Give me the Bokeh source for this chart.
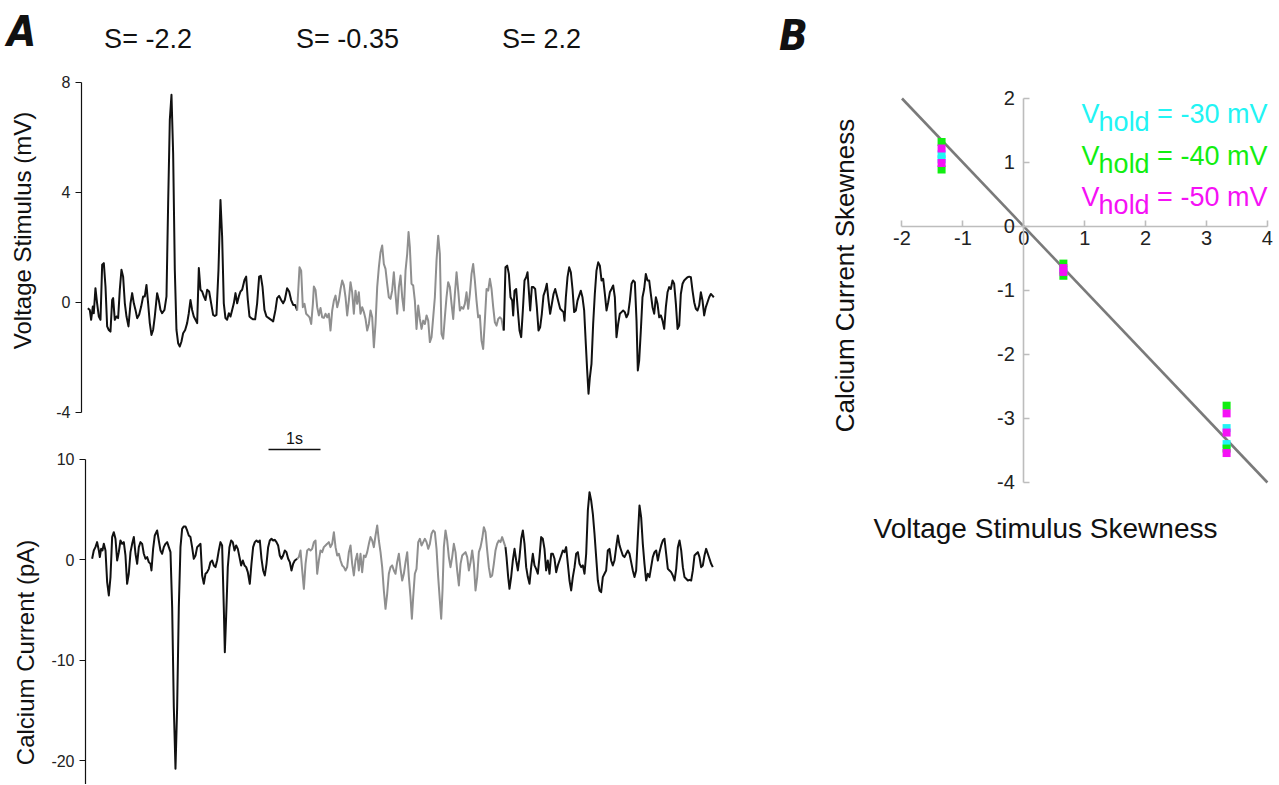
from math import pi
from bokeh.plotting import figure
from bokeh.models import Range1d, Label, FixedTicker, CustomJSTickFormatter
from bokeh.layouts import row, column
from bokeh.embed import file_html
from bokeh.resources import INLINE

# ---------------- Panel A data (time in s) ----------------
v1_t = [0.000,0.038,0.064,0.096,0.115,0.147,0.179,0.212,0.244,0.276,0.308,0.340,0.372,0.404,0.436,0.468,0.487,0.519,0.551,0.583,0.615,0.647,0.679,0.712,0.744,0.782,0.821,0.853,0.885,0.917,0.949,0.987,1.026,1.064,1.096,1.128,1.160,1.192,1.224,1.256,1.288,1.333,1.365,1.397,1.429,1.474,1.513,1.545,1.577,1.609,1.641,1.673,1.705,1.737,1.769,1.801,1.833,1.872,1.910,1.942,1.974,2.006,2.038,2.071,2.103,2.135,2.167,2.199,2.231,2.263,2.295,2.333,2.372,2.410,2.442,2.474,2.513,2.551,2.583,2.615,2.647,2.679,2.712,2.744,2.776,2.808,2.840,2.872,2.904,2.936,2.968,3.013,3.045,3.077,3.109,3.141,3.179,3.218,3.256,3.295,3.327,3.359,3.397,3.436,3.481,3.526,3.564,3.609,3.641,3.679,3.718,3.756,3.788,3.833,3.872,3.910,3.949,3.987,4.026]
v1_v = [-0.22,-0.28,-0.64,-0.16,-0.40,0.51,-0.04,-0.52,-0.64,1.36,1.42,0.57,-0.88,-1.01,-1.07,0.08,0.15,-0.64,-0.52,-0.58,0.45,1.18,0.93,-0.04,-0.52,-0.88,-0.04,0.33,-0.04,-0.28,-0.58,-0.46,-0.16,0.21,0.21,0.63,-0.04,-0.76,-1.19,-1.01,-0.52,0.33,0.08,-0.28,-0.40,-0.28,0.21,3.60,6.63,7.54,5.42,1.18,-1.01,-1.49,-1.61,-1.43,-1.13,-1.01,-0.76,-0.40,0.08,-0.28,-0.52,-0.64,-0.76,1.24,0.45,0.39,0.21,0.08,0.45,0.39,-0.04,-0.46,-0.50,-0.46,1.18,3.72,2.39,-0.04,-0.58,-0.64,-0.40,-0.52,-0.28,-0.04,0.33,-0.04,0.21,0.39,0.45,0.81,0.93,0.08,-0.52,-0.58,-0.62,-0.62,-0.04,0.93,0.96,0.57,-0.28,-0.52,-0.58,-0.64,-0.70,-0.28,0.15,0.23,0.08,-0.04,0.08,0.51,0.39,0.08,-0.10,-0.10,-0.30]

v2_t = [4.026,4.071,4.103,4.135,4.167,4.199,4.232,4.264,4.296,4.328,4.347,4.379,4.411,4.443,4.475,4.507,4.539,4.571,4.604,4.635,4.667,4.700,4.732,4.764,4.796,4.828,4.860,4.892,4.924,4.956,4.988,5.020,5.052,5.084,5.116,5.148,5.180,5.212,5.244,5.276,5.309,5.341,5.373,5.405,5.437,5.469,5.501,5.533,5.565,5.597,5.629,5.661,5.693,5.725,5.757,5.789,5.821,5.853,5.885,5.917,5.949,5.982,6.014,6.046,6.078,6.110,6.142,6.168,6.193,6.225,6.257,6.289,6.321,6.354,6.386,6.418,6.450,6.482,6.514,6.546,6.578,6.610,6.642,6.674,6.706,6.738,6.770,6.802,6.834,6.866,6.898,6.930,6.963,6.995,7.027,7.059,7.091,7.123,7.155,7.187,7.219,7.251,7.283,7.315,7.347,7.379,7.411,7.443,7.475,7.507,7.539,7.571,7.603,7.635,7.668,7.700,7.732,7.764,7.796,7.828,7.860,7.892,7.924,7.956,7.988,8.000]
v2_v = [-0.30,1.27,1.15,-0.18,-0.06,-0.42,-0.48,-0.55,-0.79,-0.06,0.57,0.45,-0.18,-0.48,-0.21,-0.55,-0.57,-0.42,-0.55,-0.42,-1.03,-0.30,0.06,0.24,-0.18,0.06,0.48,0.79,0.61,0.18,-0.48,0.06,0.73,0.36,-0.42,0.42,-0.06,0.36,-0.42,-0.18,-0.36,-0.61,-1.03,-0.79,-0.30,-0.55,-1.64,-0.79,0.55,1.27,1.82,2.06,1.39,1.21,0.67,0.18,0.12,0.42,1.09,0.30,-0.42,0.55,0.97,0.18,-0.30,1.15,1.76,2.55,2.00,0.67,0.61,0.06,-0.97,-0.12,-0.61,-0.97,-0.67,-0.79,-0.48,-0.67,-1.45,-1.27,-0.55,0.18,1.52,2.42,1.76,-1.15,-1.33,-0.55,0.18,0.73,0.55,-0.06,-0.61,0.30,1.09,0.42,-0.30,-0.18,-0.24,-0.06,0.36,-0.24,0.30,1.03,1.39,0.79,0.06,-0.55,-0.48,-1.39,-1.70,-0.67,0.48,0.42,0.85,0.48,-0.18,-0.73,-0.85,-0.61,-0.55,-0.61,-0.97,-1.03]

v3_t = [8.000,8.032,8.065,8.097,8.129,8.161,8.180,8.206,8.238,8.270,8.302,8.334,8.366,8.398,8.430,8.456,8.481,8.507,8.539,8.571,8.603,8.635,8.667,8.699,8.731,8.763,8.795,8.827,8.860,8.891,8.924,8.956,8.988,9.020,9.052,9.084,9.116,9.148,9.167,9.193,9.225,9.257,9.289,9.321,9.353,9.385,9.417,9.449,9.481,9.513,9.545,9.577,9.603,9.629,9.655,9.686,9.718,9.750,9.782,9.815,9.847,9.879,9.911,9.943,9.975,10.007,10.039,10.071,10.103,10.135,10.167,10.199,10.231,10.263,10.295,10.327,10.359,10.391,10.424,10.456,10.488,10.520,10.552,10.577,10.603,10.635,10.667,10.699,10.731,10.763,10.795,10.827,10.860,10.892,10.924,10.956,10.988,11.020,11.052,11.084,11.116,11.148,11.180,11.212,11.244,11.276,11.309,11.341,11.373,11.404,11.437,11.468,11.501,11.533,11.565,11.597,11.629,11.661,11.693,11.725,11.757,11.789,11.821,11.853,11.885,11.917,11.949,11.981,12.013,12.038]
v3_v = [-1.03,1.27,1.33,1.03,0.18,0.06,-0.48,0.42,0.48,-0.30,-1.03,-1.27,-0.30,0.79,0.91,1.09,0.42,-0.30,0.55,0.55,0.48,-0.18,-1.03,-0.91,-0.42,0.24,0.42,0.67,0.06,-0.42,-0.06,0.30,0.48,0.24,0.00,-0.24,-0.30,-0.36,-0.67,0.18,0.91,1.27,1.09,0.48,-0.36,-0.30,0.06,0.24,0.42,0.18,-0.30,-1.52,-2.48,-3.33,-2.73,-2.24,-0.79,0.30,1.15,1.45,1.33,0.79,0.85,0.30,-0.30,0.00,0.36,0.48,0.61,0.18,-1.27,-0.79,-0.42,-0.36,-0.30,-0.36,-0.55,-0.42,0.06,0.67,0.79,0.73,-0.67,-2.48,-2.12,-1.03,0.18,0.48,1.03,0.79,0.79,0.30,-0.18,-0.42,0.18,-0.06,-0.55,-0.48,-0.67,-0.97,-0.18,0.36,0.55,0.48,0.79,0.67,-0.06,-0.97,-0.85,0.30,0.67,0.79,0.85,0.91,0.93,0.91,0.42,0.00,-0.24,-0.30,-0.12,0.36,0.06,-0.48,-0.18,0.00,0.18,0.30,0.24,0.18]

c1_t = [0.083,0.115,0.147,0.179,0.212,0.231,0.256,0.282,0.308,0.340,0.372,0.404,0.436,0.468,0.500,0.532,0.564,0.596,0.628,0.660,0.692,0.724,0.756,0.788,0.821,0.853,0.885,0.917,0.949,0.981,1.013,1.045,1.077,1.109,1.141,1.173,1.205,1.224,1.256,1.288,1.333,1.365,1.397,1.429,1.461,1.494,1.526,1.558,1.590,1.622,1.654,1.686,1.718,1.750,1.782,1.814,1.846,1.878,1.910,1.942,1.974,2.006,2.038,2.071,2.103,2.135,2.167,2.199,2.231,2.263,2.295,2.327,2.359,2.391,2.423,2.455,2.487,2.519,2.551,2.583,2.615,2.635,2.660,2.692,2.724,2.756,2.788,2.821,2.853,2.885,2.917,2.949,2.981,3.013,3.045,3.077,3.115,3.147,3.179,3.212,3.244,3.276,3.308,3.340,3.372,3.404,3.436,3.468,3.500,3.532,3.564,3.596,3.628,3.660,3.692,3.724,3.756,3.788,3.820,3.853,3.885,3.917,3.949,3.981,4.026]
c1_c = [0.10,0.93,1.26,1.76,0.93,0.27,1.09,0.93,1.59,0.93,-2.22,-3.55,-1.72,2.26,2.75,2.09,-0.07,0.76,1.92,1.59,1.76,0.43,-2.39,-1.39,0.76,1.59,2.26,0.60,-0.40,1.26,1.76,1.59,0.60,0.10,0.27,-0.23,-0.40,-1.06,1.09,2.42,2.92,1.92,0.93,0.60,1.26,1.59,1.76,1.26,0.76,-4.71,-14.66,-20.80,-14.66,-4.71,1.26,3.08,3.32,3.32,2.92,2.42,2.26,1.26,0.10,0.43,1.26,1.43,1.59,-1.56,-2.39,-1.39,-1.23,-0.90,-0.23,-0.07,-0.56,-0.73,-0.07,0.93,1.76,1.43,-4.71,-9.19,-5.70,-0.73,1.26,1.92,1.76,0.93,1.43,1.09,0.27,-0.56,-0.07,-0.56,-0.73,-1.23,-2.39,-0.40,1.26,1.76,1.92,1.76,1.92,0.10,-1.06,-1.56,-0.40,1.26,1.92,2.09,1.92,1.99,1.76,1.43,0.43,0.10,0.43,0.93,0.76,0.10,-0.23,-1.06,-0.40,-0.07,0.10]

c2_t = [4.026,4.058,4.090,4.123,4.155,4.187,4.219,4.251,4.283,4.315,4.347,4.379,4.411,4.443,4.475,4.507,4.539,4.571,4.603,4.635,4.667,4.699,4.732,4.764,4.796,4.828,4.860,4.892,4.924,4.956,4.988,5.020,5.052,5.084,5.116,5.148,5.180,5.212,5.244,5.276,5.309,5.341,5.373,5.405,5.437,5.469,5.501,5.533,5.565,5.597,5.629,5.661,5.693,5.725,5.757,5.789,5.821,5.853,5.886,5.917,5.949,5.982,6.014,6.046,6.078,6.110,6.142,6.174,6.206,6.232,6.257,6.289,6.321,6.354,6.386,6.418,6.450,6.482,6.514,6.546,6.578,6.610,6.642,6.674,6.706,6.738,6.770,6.796,6.821,6.847,6.879,6.911,6.943,6.975,7.007,7.039,7.071,7.103,7.136,7.168,7.200,7.232,7.264,7.296,7.328,7.360,7.392,7.424,7.456,7.488,7.520,7.552,7.584,7.616,7.648,7.680,7.712,7.744,7.776,7.808,7.840,7.872,7.904,7.936,7.968,8.000,8.032]
c2_c = [0.10,0.27,0.93,-1.06,-2.89,-0.40,0.93,1.09,0.93,1.09,1.76,1.92,-1.39,-0.07,0.93,0.76,1.26,1.43,1.59,1.76,1.26,1.59,2.75,1.26,0.43,0.60,-0.07,-0.56,-0.73,-1.06,-0.73,0.76,1.43,-0.40,-1.56,-0.07,0.60,-1.06,0.60,-1.23,0.43,0.27,0.76,1.59,2.26,1.92,1.26,2.42,3.42,1.92,0.76,-0.73,-3.05,-4.88,-3.38,-1.39,-0.73,-0.56,-1.06,-1.39,-0.23,0.60,-0.90,-2.06,-1.39,-0.23,0.76,-1.72,-3.71,-5.87,-3.71,-1.39,-0.90,1.76,2.09,1.43,1.76,2.09,1.76,1.09,1.59,2.59,2.92,2.75,1.09,-1.72,-4.05,-5.87,-3.05,1.26,2.92,1.92,0.27,-0.73,0.27,1.59,0.76,-1.06,-2.55,-0.40,0.43,0.60,0.76,0.27,-1.06,-0.23,0.93,-0.40,-3.05,-1.72,0.76,1.26,2.09,3.25,2.75,0.93,-0.73,-1.72,-1.56,-0.40,0.93,1.59,1.92,1.76,2.26,1.76,1.26]

c3_t = [8.032,8.052,8.084,8.109,8.141,8.173,8.206,8.238,8.270,8.302,8.334,8.366,8.398,8.430,8.462,8.494,8.526,8.558,8.590,8.622,8.654,8.686,8.718,8.750,8.782,8.814,8.846,8.879,8.911,8.943,8.975,9.007,9.039,9.071,9.103,9.135,9.167,9.199,9.231,9.263,9.295,9.327,9.360,9.391,9.424,9.456,9.488,9.520,9.552,9.584,9.616,9.648,9.680,9.712,9.744,9.776,9.808,9.840,9.872,9.904,9.936,9.968,10.000,10.032,10.064,10.096,10.128,10.161,10.193,10.225,10.257,10.289,10.321,10.353,10.385,10.417,10.449,10.481,10.513,10.545,10.577,10.609,10.641,10.673,10.705,10.737,10.769,10.801,10.833,10.865,10.898,10.930,10.962,10.994,11.026,11.058,11.090,11.122,11.154,11.186,11.218,11.250,11.283,11.315,11.347,11.379,11.411,11.443,11.475,11.507,11.539,11.571,11.603,11.635,11.667,11.699,11.731,11.763,11.795,11.827,11.859,11.891,11.923,11.955,11.987,12.019]
c3_c = [1.26,0.27,-1.72,-2.89,-1.72,-0.07,1.09,-0.07,-1.06,0.27,2.09,2.92,1.59,-0.73,-1.72,-2.39,-0.73,0.60,-0.56,-0.90,-1.39,0.27,2.26,2.09,1.09,-1.06,-0.07,-1.39,0.60,0.60,0.10,-1.23,-0.56,-0.07,0.43,0.93,0.76,1.26,-0.40,-2.06,-3.05,-1.72,-0.73,0.60,0.76,-0.40,-0.73,-0.56,-1.39,0.60,4.91,6.73,5.90,4.58,2.59,0.27,-2.06,-3.05,-3.22,-1.72,-1.39,-1.06,0.93,1.09,-0.07,-0.56,-0.07,1.26,2.42,1.43,0.93,0.43,0.27,0.60,0.93,0.60,-0.23,-1.06,-1.72,-1.06,2.26,5.41,4.25,1.59,-0.40,-2.06,-1.39,-1.72,-0.73,0.27,0.76,0.93,-0.07,0.76,1.43,1.92,2.09,0.60,-0.90,-1.06,-1.23,-1.56,-2.06,-0.90,1.26,1.92,0.93,-0.73,-1.72,-1.89,-2.06,-1.99,-2.06,-1.06,0.43,0.60,0.76,0.27,-0.73,-0.56,0.43,1.09,0.60,0.10,-0.40,-0.73]

seg_labels = ["S= -2.2", "S= -0.35", "S= 2.2"]
v_ticks = [-4, 0, 4, 8]
c_ticks = [-20, -10, 0, 10]
scale_bar_t = [3.475, 4.475]   # 1 s

# ---------------- Panel B data ----------------
fit_x = [-2, 4]
fit_y = [2, -4]
cyan_x = [-1.35, -1.35, 0.65, 3.33, 3.33]
cyan_y = [1.13, 1.05, -0.68, -3.15, -3.40]
green_x = [-1.35, -1.35, 0.65, 0.65, 3.33, 3.33]
green_y = [1.32, 0.89, -0.58, -0.77, -2.80, -3.47]
mag_x = [-1.35, -1.35, 0.65, 0.65, 3.33, 3.33, 3.33]
mag_y = [1.22, 0.99, -0.65, -0.71, -2.92, -3.22, -3.54]
legend_rows = [("= -30 mV", "#22f4f4"), ("= -40 mV", "#11ee11"), ("= -50 mV", "#f511f5")]
b_xticks = [-2, -1, 0, 1, 2, 3, 4]
b_yticks = [-4, -3, -2, -1, 0, 1, 2]

FONT = "Liberation Sans"
PANEL_FONT = "DejaVu Sans Condensed, DejaVu Sans, Liberation Sans, sans-serif"
BLACK = "#111111"
GRAY = "#8f8f8f"


def cut(a, b):
    n = min(len(a), len(b))
    return a[:n], b[:n]


def make_fig(w, h, xr, yr):
    p = figure(width=w, height=h, x_range=Range1d(*xr), y_range=Range1d(*yr),
               x_axis_type=None, toolbar_location=None, output_backend="svg",
               min_border_left=0, min_border_right=0, min_border_top=0, min_border_bottom=0)
    p.grid.visible = False
    p.outline_line_color = None
    p.background_fill_color = "white"
    p.border_fill_color = "white"
    return p


def style_axis(ax, ticks, bounds, loc, color, size, t_in, t_out, width):
    ax.fixed_location = loc
    ax.ticker = FixedTicker(ticks=ticks)
    ax.formatter = CustomJSTickFormatter(code="return String(tick)")
    ax.bounds = bounds
    ax.axis_line_color = color
    ax.axis_line_width = width
    ax.major_tick_line_color = color
    ax.major_tick_line_width = width
    ax.major_tick_in = t_in
    ax.major_tick_out = t_out
    ax.minor_tick_line_color = None
    ax.major_label_text_font = FONT
    ax.major_label_text_font_size = size
    ax.major_label_text_color = "#222222"


def label(p, x, y, text, size, color=BLACK, angle=0.0, font=FONT, style="normal",
          align="center", baseline="middle"):
    p.add_layout(Label(x=x, y=y, text=text, text_font=font, text_font_style=style,
                       text_font_size=size, text_color=color, angle=angle,
                       text_align=align, text_baseline=baseline))


# ---- A1: voltage stimulus (canvas 0..768 x 0..430) ----
a1 = make_fig(768, 430, (-1.679, 13.090), (-4.665, 10.971))
style_axis(a1.yaxis[0], v_ticks, (-4, 8), -0.121, BLACK, "16px", 0, 6, 1.2)
a1.yaxis[0].major_label_standoff = 5
for (tt, vv), col in [(cut(v1_t, v1_v), BLACK), (cut(v2_t, v2_v), GRAY), (cut(v3_t, v3_v), BLACK)]:
    a1.line(tt, vv, line_color=col, line_width=2.0, line_join="round")
label(a1, -1.275, 9.844, "A", "42px", font=PANEL_FONT, style="bold italic")
for lx, txt in zip([1.158, 4.994, 8.725], seg_labels):
    label(a1, lx, 9.553, txt, "27px")
label(a1, -1.256, 2.607, "Voltage Stimulus (mV)", "24px", angle=pi / 2)

# ---- A2: calcium current (canvas 0..768 x 430..784) ----
a2 = make_fig(768, 354, (-1.679, 13.090), (-22.358, 12.866))
style_axis(a2.yaxis[0], c_ticks, (-30, 10), -0.044, BLACK, "16px", 0, 6, 1.2)
a2.yaxis[0].major_label_standoff = 5
for (tt, cc), col in [(cut(c1_t, c1_c), BLACK), (cut(c2_t, c2_c), GRAY), (cut(c3_t, c3_c), BLACK)]:
    a2.line(tt, cc, line_color=col, line_width=2.0, line_join="round")
a2.line(scale_bar_t, [10.98, 10.98], line_color=BLACK, line_width=1.5)
label(a2, sum(scale_bar_t) / 2, 12.07, "1s", "16px")
label(a2, -1.198, -9.22, "Calcium Current (pA)", "24px", angle=pi / 2)

# ---- B: skewness (canvas 768..1278 x 0..784) ----
b = figure(width=510, height=784, x_range=Range1d(-4.192, 4.182), y_range=Range1d(-8.719, 3.531),
           toolbar_location=None, output_backend="svg",
           min_border_left=0, min_border_right=0, min_border_top=0, min_border_bottom=0)
b.grid.visible = False
b.outline_line_color = None
b.background_fill_color = "white"
b.border_fill_color = "white"
style_axis(b.xaxis[0], b_xticks, (-2, 4), 0, "#bdbdbd", "20px", 6, 0, 1.6)
style_axis(b.yaxis[0], b_yticks, (-4, 2), 0, "#bdbdbd", "20px", 6, 0, 1.6)
b.xaxis[0].major_label_standoff = 5
b.yaxis[0].major_label_standoff = 9

b.line(fit_x, fit_y, line_color="#7a7a7a", line_width=2.6)
b.scatter(cyan_x, cyan_y, marker="square", size=8, fill_color="#22f4f4", line_color=None)
b.scatter(green_x, green_y, marker="square", size=8, fill_color="#11ee11", line_color=None)
b.scatter(mag_x, mag_y, marker="square", size=8, fill_color="#f511f5", line_color=None)

for (txt, col), base in zip(legend_rows, [1.75, 1.094, 0.453]):
    label(b, 0.947, base, "V", "27px", color=col, align="left", baseline="alphabetic")
    label(b, 1.228, base - 0.125, "hold", "27px", color=col, align="left", baseline="alphabetic")
    label(b, 4.0, base, txt, "27px", color=col, align="right", baseline="alphabetic")

label(b, -3.782, 2.984, "B", "42px", font=PANEL_FONT, style="bold italic")
label(b, -2.928, -0.766, "Calcium Current Skewness", "26px", angle=pi / 2)
label(b, 0.356, -4.719, "Voltage Stimulus Skewness", "28px")

layout = row(column(a1, a2), b)
open("out.html", "w").write(file_html(layout, INLINE))
